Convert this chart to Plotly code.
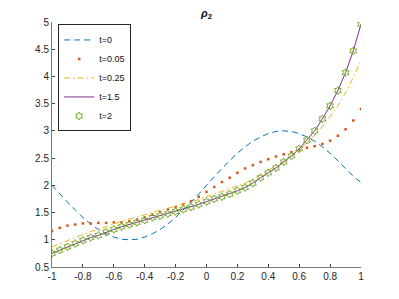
import plotly.graph_objects as go

x = [round(-1 + 0.05 * i, 2) for i in range(41)]

t0 = [2.00, 1.84, 1.69, 1.55, 1.41, 1.29, 1.19, 1.11, 1.05, 1.01,
      1.00, 1.01, 1.05, 1.11, 1.19, 1.29, 1.41, 1.55, 1.69, 1.84,
      2.00, 2.16, 2.31, 2.45, 2.59, 2.71, 2.81, 2.89, 2.95, 2.99,
      3.00, 2.99, 2.95, 2.89, 2.81, 2.71, 2.59, 2.45, 2.31, 2.17, 2.05]

t005 = [1.16, 1.22, 1.26, 1.28, 1.30, 1.30, 1.31, 1.31, 1.32, 1.32,
        1.34, 1.37, 1.41, 1.46, 1.51, 1.56, 1.60, 1.65, 1.71, 1.79,
        1.88, 1.97, 2.06, 2.14, 2.23, 2.31, 2.37, 2.43, 2.48, 2.53,
        2.57, 2.61, 2.65, 2.69, 2.72, 2.76, 2.82, 2.91, 3.03, 3.19, 3.40]

t025 = [0.87, 0.93, 0.99, 1.04, 1.10, 1.15, 1.19, 1.24, 1.29, 1.34,
        1.38, 1.42, 1.46, 1.50, 1.53, 1.57, 1.61, 1.65, 1.69, 1.74,
        1.79, 1.84, 1.88, 1.93, 1.98, 2.04, 2.11, 2.19, 2.27, 2.35,
        2.44, 2.54, 2.65, 2.78, 2.92, 3.08, 3.26, 3.46, 3.70, 3.98, 4.30]

t15 = [0.75, 0.81, 0.87, 0.93, 0.99, 1.04, 1.08, 1.14, 1.19, 1.24,
       1.28, 1.32, 1.36, 1.41, 1.44, 1.48, 1.52, 1.56, 1.60, 1.65,
       1.70, 1.75, 1.79, 1.84, 1.90, 1.96, 2.04, 2.14, 2.23, 2.32,
       2.43, 2.54, 2.67, 2.83, 3.00, 3.22, 3.46, 3.74, 4.07, 4.47, 4.96]

t2 = list(t15)

x_ticks = [-1, -0.8, -0.6, -0.4, -0.2, 0, 0.2, 0.4, 0.6, 0.8, 1]
x_labels = ["-1", "-0.8", "-0.6", "-0.4", "-0.2", "0", "0.2", "0.4", "0.6", "0.8", "1"]
y_ticks = [0.5, 1, 1.5, 2, 2.5, 3, 3.5, 4, 4.5, 5]
y_labels = ["0.5", "1", "1.5", "2", "2.5", "3", "3.5", "4", "4.5", "5"]

fig = go.Figure()
fig.add_trace(go.Scatter(x=x, y=t0, mode="lines", name="t=0",
                         line=dict(color="#0072BD", width=1, dash="6px,4px")))
fig.add_trace(go.Scatter(x=x, y=t005, mode="markers", name="t=0.05",
                         marker=dict(color="#D95319", size=2.5, symbol="square")))
fig.add_trace(go.Scatter(x=x, y=t025, mode="lines", name="t=0.25",
                         line=dict(color="#EDB120", width=1, dash="6px,3px,1.5px,3px")))
fig.add_trace(go.Scatter(x=x, y=t15, mode="lines", name="t=1.5",
                         line=dict(color="#7E2F8E", width=1)))
fig.add_trace(go.Scatter(x=x, y=t2, mode="markers", name="t=2",
                         marker=dict(color="#77AC30", size=6, symbol="hexagram-open",
                                     line=dict(color="#77AC30", width=1))))

axis_common = dict(showgrid=False, zeroline=False, showline=True, linecolor="#7a7a7a",
                   linewidth=1, ticks="inside", ticklen=3, tickcolor="#444444",
                   tickfont=dict(family="Liberation Sans, Arial, sans-serif", size=10, color="#262626"),
                   mirror=False)

fig.update_layout(
    width=399, height=299,
    margin=dict(l=52, r=38, t=22, b=32),
    paper_bgcolor="white", plot_bgcolor="white",
    title=dict(text="<b><i>ρ</i><sub>2</sub></b>", x=(52 + 154.5) / 399, xanchor="center",
               y=1 - 13 / 299, yanchor="middle",
               font=dict(family="Liberation Sans, Arial, sans-serif", size=11, color="#111111")),
    xaxis=dict(range=[-1, 1], tickvals=x_ticks, ticktext=x_labels, **axis_common),
    yaxis=dict(range=[0.5, 5], tickvals=y_ticks, ticktext=y_labels, **axis_common),
    legend=dict(x=0.02, y=0.99, xanchor="left", yanchor="top",
                bgcolor="white", bordercolor="#262626", borderwidth=1,
                font=dict(family="Liberation Sans, Arial, sans-serif", size=9, color="#111111"),
                itemwidth=30, tracegroupgap=0),
    showlegend=True,
)

fig.write_html("out.html", config={"displayModeBar": False},
               post_script="document.body.style.margin='0';")
